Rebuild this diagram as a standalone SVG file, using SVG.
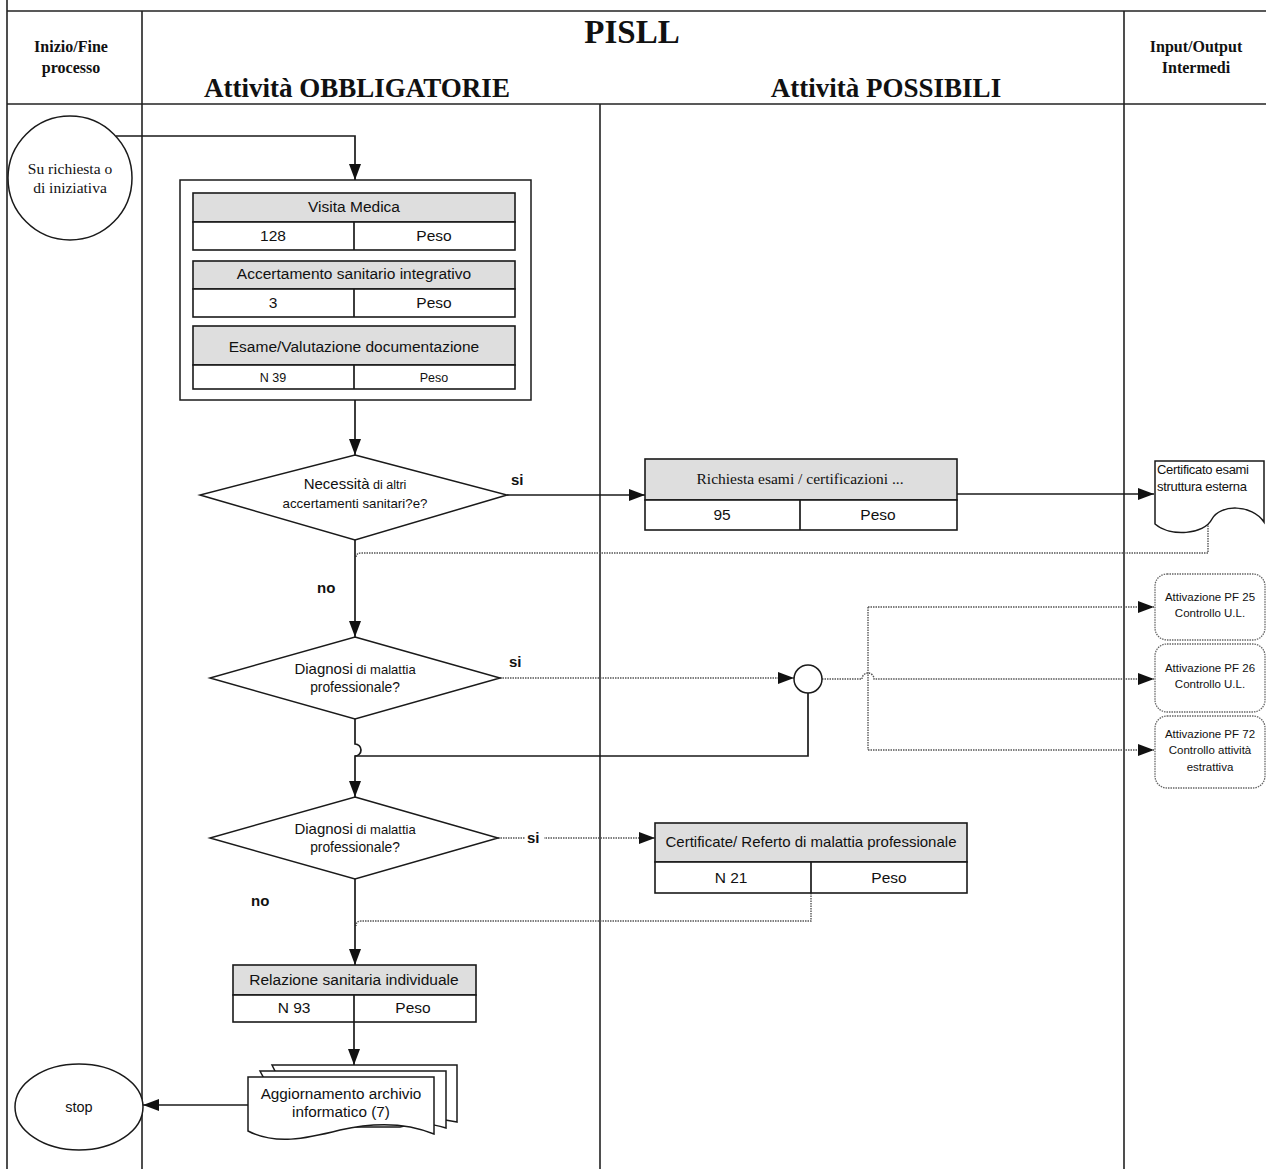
<svg xmlns="http://www.w3.org/2000/svg" width="1266" height="1169" viewBox="0 0 1266 1169">
  <defs>
    <marker id="arr" markerUnits="userSpaceOnUse" markerWidth="16" markerHeight="12" refX="16" refY="6" orient="auto">
      <path d="M0,0 L16,6 L0,12 Z" fill="#111"/>
    </marker>
    <style>
      .frame { stroke: #222; stroke-width: 1.6; fill: none; }
      .ln { stroke: #1a1a1a; stroke-width: 1.7; fill: none; }
      .dot { stroke: #555; stroke-width: 1.4; stroke-dasharray: 1.5 1; fill: none; }
      .hdr { fill: #dedede; stroke: #1a1a1a; stroke-width: 1.6; }
      .cell { fill: #fff; stroke: #1a1a1a; stroke-width: 1.6; }
      .shape { fill: #fff; stroke: #1a1a1a; stroke-width: 1.5; }
      .dshape { fill: #fff; stroke: #666; stroke-width: 1.3; stroke-dasharray: 1.5 1; }
      .serif { font-family: "Liberation Serif", "Times New Roman", serif; fill: #111; }
      .sans { font-family: "Liberation Sans", Arial, sans-serif; fill: #111; }
      .b { font-weight: bold; }
      .c { text-anchor: middle; }
    </style>
  </defs>

  <rect width="1266" height="1169" fill="#fff"/>

  <!-- swimlane frame -->
  <g id="lanes">
    <line class="frame" x1="7" y1="0" x2="7" y2="1169"/>
    <line class="frame" x1="7" y1="11" x2="1266" y2="11"/>
    <line class="frame" x1="7" y1="104" x2="1266" y2="104"/>
    <line class="frame" x1="142" y1="11" x2="142" y2="1169"/>
    <line class="frame" x1="600" y1="104" x2="600" y2="1169"/>
    <line class="frame" x1="1124" y1="11" x2="1124" y2="1169"/>
    <text class="serif b c" x="632" y="43" font-size="33">PISLL</text>
    <text class="serif b c" x="357" y="97" font-size="27">Attività OBBLIGATORIE</text>
    <text class="serif b c" x="886" y="97" font-size="27">Attività POSSIBILI</text>
    <text class="serif b c" x="71" y="52" font-size="16">Inizio/Fine</text>
    <text class="serif b c" x="71" y="73" font-size="16">processo</text>
    <text class="serif b c" x="1196" y="52" font-size="16">Input/Output</text>
    <text class="serif b c" x="1196" y="73" font-size="16">Intermedi</text>
  </g>

  <!-- connectors -->
  <g id="connectors">
    <path class="ln" d="M116,136 H355 V180" marker-end="url(#arr)"/>
    <path class="ln" d="M355,400 V455" marker-end="url(#arr)"/>
    <path class="ln" d="M507,495 H645" marker-end="url(#arr)"/>
    <path class="ln" d="M957,494 H1154" marker-end="url(#arr)"/>
    <path class="dot" d="M1208,518 V553 H361 Q356,553 356,558"/>
    <path class="ln" d="M355,540 V637" marker-end="url(#arr)"/>
    <path class="dot" d="M500,678 H794" marker-end="url(#arr)"/>
    <path class="ln" d="M808,693 V756 H355"/>
    <path class="ln" d="M355,719 V744 A6,6 0 0 1 355,756 V797" marker-end="url(#arr)"/>
    <path class="dot" d="M822,679 H862 A6,6 0 0 1 874,679 H1154" marker-end="url(#arr)"/>
    <path class="dot" d="M868,607 V750"/>
    <path class="dot" d="M868,607 H1154" marker-end="url(#arr)"/>
    <path class="dot" d="M868,750 H1154" marker-end="url(#arr)"/>
    <path class="dot" d="M498,838 H655" marker-end="url(#arr)"/>
    <path class="dot" d="M811,893 V921 H361 Q356,921 356,926"/>
    <path class="ln" d="M355,879 V965" marker-end="url(#arr)"/>
    <path class="ln" d="M354,1022 V1065" marker-end="url(#arr)"/>
    <path class="ln" d="M248,1105 H143" marker-end="url(#arr)"/>
    <text class="sans b" x="511" y="485" font-size="15">si</text>
    <text class="sans b" x="317" y="593" font-size="15">no</text>
    <text class="sans b" x="509" y="667" font-size="15">si</text>
    <rect x="525" y="830" width="19" height="15" fill="#fff"/>
    <text class="sans b" x="527" y="843" font-size="15">si</text>
    <text class="sans b" x="251" y="906" font-size="15">no</text>
  </g>

  <!-- start -->
  <g id="start">
    <circle class="shape" cx="70" cy="178" r="62"/>
    <text class="serif c" x="70" y="174" font-size="15.5">Su richiesta  o</text>
    <text class="serif c" x="70" y="193" font-size="15.5">di iniziativa</text>
  </g>

  <!-- mandatory activities block -->
  <g id="visita">
    <rect class="shape" x="180" y="180" width="351" height="220"/>
    <rect class="hdr" x="193" y="193" width="322" height="29"/>
    <rect class="cell" x="193" y="222" width="322" height="28"/>
    <line class="ln" x1="354" y1="222" x2="354" y2="250"/>
    <text class="sans c" x="354" y="212" font-size="15.5">Visita Medica</text>
    <text class="sans c" x="273" y="241" font-size="15.5">128</text>
    <text class="sans c" x="434" y="241" font-size="15.5">Peso</text>

    <rect class="hdr" x="193" y="261" width="322" height="28"/>
    <rect class="cell" x="193" y="289" width="322" height="28"/>
    <line class="ln" x1="354" y1="289" x2="354" y2="317"/>
    <text class="sans c" x="354" y="279" font-size="15.5">Accertamento  sanitario integrativo</text>
    <text class="sans c" x="273" y="308" font-size="15.5">3</text>
    <text class="sans c" x="434" y="308" font-size="15.5">Peso</text>

    <rect class="hdr" x="193" y="326" width="322" height="39"/>
    <rect class="cell" x="193" y="365" width="322" height="24"/>
    <line class="ln" x1="354" y1="365" x2="354" y2="389"/>
    <text class="sans c" x="354" y="352" font-size="15.5">Esame/Valutazione  documentazione</text>
    <text class="sans c" x="273" y="382" font-size="12.5">N 39</text>
    <text class="sans c" x="434" y="382" font-size="12.5">Peso</text>
  </g>

  <!-- decision: further exams -->
  <g id="dec-accertamenti">
    <polygon class="shape" points="355,455 507,495 355,540 200,495"/>
    <text class="sans c" x="355" y="489"><tspan font-size="15">Necessità</tspan><tspan font-size="12.5"> di altri</tspan></text>
    <text class="sans c" x="355" y="508" font-size="13.3">accertamenti sanitari?e?</text>
  </g>

  <g id="richiesta">
    <rect class="hdr" x="645" y="459" width="312" height="41"/>
    <rect class="cell" x="645" y="500" width="312" height="30"/>
    <line class="ln" x1="800" y1="500" x2="800" y2="530"/>
    <text class="serif c" x="800" y="484" font-size="15.5">Richiesta esami / certificazioni  ...</text>
    <text class="sans c" x="722" y="520" font-size="15.5">95</text>
    <text class="sans c" x="878" y="520" font-size="15.5">Peso</text>
  </g>

  <g id="certificato-esami">
    <path class="shape" d="M1155,461 H1264 V522 C1252,504 1220,504 1212,519 C1204,535 1170,537 1155,524 Z"/>
    <text class="sans" x="1157" y="474" font-size="13" letter-spacing="-0.3">Certificato esami</text>
    <text class="sans" x="1157" y="491" font-size="13" letter-spacing="-0.3">struttura esterna</text>
  </g>

  <!-- decision: occupational disease -->
  <g id="dec-diagnosi-1">
    <polygon class="shape" points="355,637 500,678 355,719 210,678"/>
    <text class="sans c" x="355" y="674"><tspan font-size="15">Diagnosi</tspan><tspan font-size="13"> di malattia</tspan></text>
    <text class="sans c" x="355" y="692" font-size="13.8">professionale?</text>
  </g>

  <g id="junction">
    <circle class="shape" cx="808" cy="679" r="14"/>
  </g>

  <g id="pf25">
    <rect class="dshape" x="1155" y="574" width="110" height="66" rx="12"/>
    <text class="sans c" x="1210" y="601" font-size="11.5">Attivazione  PF 25</text>
    <text class="sans c" x="1210" y="617" font-size="11.5">Controllo  U.L.</text>
  </g>
  <g id="pf26">
    <rect class="dshape" x="1155" y="644" width="110" height="68" rx="12"/>
    <text class="sans c" x="1210" y="672" font-size="11.5">Attivazione  PF 26</text>
    <text class="sans c" x="1210" y="688" font-size="11.5">Controllo  U.L.</text>
  </g>
  <g id="pf72">
    <rect class="dshape" x="1155" y="716" width="110" height="72" rx="12"/>
    <text class="sans c" x="1210" y="738" font-size="11.5">Attivazione  PF 72</text>
    <text class="sans c" x="1210" y="754" font-size="11.5">Controllo  attività</text>
    <text class="sans c" x="1210" y="771" font-size="11.5">estrattiva</text>
  </g>

  <g id="dec-diagnosi-2">
    <polygon class="shape" points="355,797 498,838 355,879 210,838"/>
    <text class="sans c" x="355" y="834"><tspan font-size="15">Diagnosi</tspan><tspan font-size="13"> di malattia</tspan></text>
    <text class="sans c" x="355" y="852" font-size="13.8">professionale?</text>
  </g>

  <g id="referto">
    <rect class="hdr" x="655" y="823" width="312" height="39"/>
    <rect class="cell" x="655" y="862" width="312" height="31"/>
    <line class="ln" x1="811" y1="862" x2="811" y2="893"/>
    <text class="sans c" x="811" y="847" font-size="15">Certificate/ Referto di malattia professionale</text>
    <text class="sans c" x="731" y="883" font-size="15.5">N 21</text>
    <text class="sans c" x="889" y="883" font-size="15.5">Peso</text>
  </g>

  <g id="relazione">
    <rect class="hdr" x="233" y="965" width="243" height="30"/>
    <rect class="cell" x="233" y="995" width="243" height="27"/>
    <line class="ln" x1="354" y1="995" x2="354" y2="1022"/>
    <text class="sans c" x="354" y="985" font-size="15.5">Relazione sanitaria individuale</text>
    <text class="sans c" x="294" y="1013" font-size="15.5">N 93</text>
    <text class="sans c" x="413" y="1013" font-size="15.5">Peso</text>
  </g>

  <g id="archivio">
    <path class="shape" d="M272,1065 H457 V1122 C440,1118 425,1118 410,1121 L300,1121 Z"/>
    <path class="shape" d="M260,1071 H446 V1128 C430,1123 418,1123 400,1127 L290,1127 Z"/>
    <path class="shape" d="M248,1077 H434 V1134 C405,1122 375,1122 340,1130 C305,1139 275,1145 248,1131 Z"/>
    <text class="sans c" x="341" y="1099" font-size="15.3">Aggiornamento  archivio</text>
    <text class="sans c" x="341" y="1117" font-size="15.3">informatico  (7)</text>
  </g>

  <g id="stop">
    <ellipse class="shape" cx="79" cy="1107" rx="64" ry="43"/>
    <text class="sans c" x="79" y="1112" font-size="14.5">stop</text>
  </g>
</svg>
